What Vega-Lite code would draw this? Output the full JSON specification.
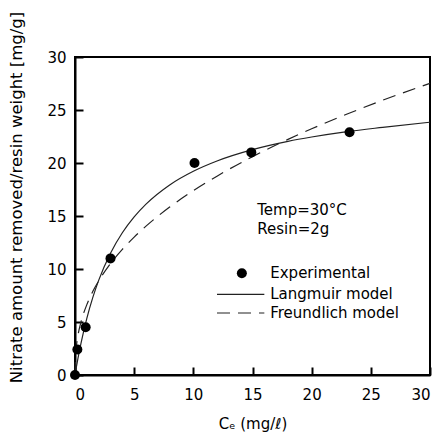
{
  "$schema": "https://vega.github.io/schema/vega-lite/v6.json",
  "width": 355,
  "height": 318,
  "autosize": "none",
  "padding": {"left": 75, "top": 57, "right": 15, "bottom": 63},
  "background": "white",
  "config": {
    "font": "DejaVu Sans",
    "view": {"stroke": "black", "strokeWidth": 2},
    "axis": {
      "domainColor": "black",
      "domainWidth": 2,
      "tickColor": "black",
      "tickWidth": 2,
      "tickSize": -8,
      "grid": false,
      "labelFont": "DejaVu Sans",
      "labelFontSize": 15,
      "labelColor": "black",
      "titleFont": "DejaVu Sans",
      "titleFontSize": 15,
      "titleFontWeight": "normal",
      "titleColor": "black"
    },
    "text": {"font": "DejaVu Sans", "fontSize": 15, "color": "black"}
  },
  "datasets": {
    "exp": [
      {"C": 0, "q": 0},
      {"C": 0.2, "q": 2.4},
      {"C": 0.9, "q": 4.5},
      {"C": 3.0, "q": 11.0},
      {"C": 10.1, "q": 20.0},
      {"C": 14.9, "q": 21.0},
      {"C": 23.2, "q": 22.9}
    ],
    "langmuir": [
      {"C": 0, "q": 0},
      {"C": 0.1, "q": 0.65},
      {"C": 0.25, "q": 1.57},
      {"C": 0.5, "q": 2.97},
      {"C": 1, "q": 5.35},
      {"C": 1.5, "q": 7.3},
      {"C": 2, "q": 8.93},
      {"C": 3, "q": 11.49},
      {"C": 4, "q": 13.42},
      {"C": 5, "q": 14.92},
      {"C": 6, "q": 16.12},
      {"C": 8, "q": 17.93},
      {"C": 10, "q": 19.22},
      {"C": 12, "q": 20.19},
      {"C": 15, "q": 21.26},
      {"C": 18, "q": 22.04},
      {"C": 20, "q": 22.45},
      {"C": 23, "q": 22.96},
      {"C": 26, "q": 23.36},
      {"C": 30, "q": 23.85}
    ],
    "freundlich": [
      {"C": 0, "q": 0},
      {"C": 0.05, "q": 1.9},
      {"C": 0.1, "q": 2.54},
      {"C": 0.25, "q": 3.72},
      {"C": 0.5, "q": 4.97},
      {"C": 1, "q": 6.64},
      {"C": 1.5, "q": 7.87},
      {"C": 2, "q": 8.87},
      {"C": 3, "q": 10.51},
      {"C": 4, "q": 11.85},
      {"C": 5, "q": 13.01},
      {"C": 6, "q": 14.04},
      {"C": 8, "q": 15.84},
      {"C": 10, "q": 17.39},
      {"C": 12, "q": 18.76},
      {"C": 15, "q": 20.6},
      {"C": 18, "q": 22.23},
      {"C": 20, "q": 23.23},
      {"C": 23, "q": 24.62},
      {"C": 26, "q": 25.92},
      {"C": 30, "q": 27.52}
    ]
  },
  "layer": [
    {
      "data": {"name": "langmuir"},
      "mark": {"type": "line", "color": "#222", "strokeWidth": 1.2, "interpolate": "monotone"},
      "encoding": {
        "x": {
          "field": "C", "type": "quantitative",
          "scale": {"domain": [0, 30], "nice": false},
          "axis": {
            "values": [0, 5, 10, 15, 20, 25, 30],
            "labelPadding": 20,
            "title": "Cₑ  (mg/ℓ)",
            "titlePadding": 14
          }
        },
        "y": {
          "field": "q", "type": "quantitative",
          "scale": {"domain": [0, 30], "nice": false},
          "axis": {
            "values": [0, 5, 10, 15, 20, 25, 30],
            "labelPadding": 17,
            "title": "Nitrate amount removed/resin weight [mg/g]",
            "titleFontSize": 16.5,
            "titleX": -51,
            "titleY": 140
          }
        }
      }
    },
    {
      "data": {"name": "freundlich"},
      "mark": {"type": "line", "color": "#222", "strokeWidth": 1.2, "strokeDash": [13, 8], "interpolate": "monotone"},
      "encoding": {
        "x": {"field": "C", "type": "quantitative"},
        "y": {"field": "q", "type": "quantitative"}
      }
    },
    {
      "data": {"name": "exp"},
      "mark": {"type": "point", "filled": true, "color": "black", "opacity": 1, "size": 100, "clip": false},
      "encoding": {
        "x": {"field": "C", "type": "quantitative"},
        "y": {"field": "q", "type": "quantitative"}
      }
    },
    {
      "data": {"values": [{}]},
      "layer": [
        {"mark": {"type": "text", "align": "left", "baseline": "middle"},
         "encoding": {"x": {"datum": 15.4}, "y": {"datum": 15.6}, "text": {"value": "Temp=30°C"}}},
        {"mark": {"type": "text", "align": "left", "baseline": "middle"},
         "encoding": {"x": {"datum": 15.4}, "y": {"datum": 13.8}, "text": {"value": "Resin=2g"}}},
        {"mark": {"type": "point", "filled": true, "color": "black", "opacity": 1, "size": 100},
         "encoding": {"x": {"datum": 14.1}, "y": {"datum": 9.6}}},
        {"mark": {"type": "text", "align": "left", "baseline": "middle"},
         "encoding": {"x": {"datum": 16.5}, "y": {"datum": 9.6}, "text": {"value": "Experimental"}}},
        {"mark": {"type": "rule", "color": "#222", "strokeWidth": 1.2},
         "encoding": {"x": {"datum": 12.0}, "x2": {"datum": 16.0}, "y": {"datum": 7.6}}},
        {"mark": {"type": "text", "align": "left", "baseline": "middle"},
         "encoding": {"x": {"datum": 16.5}, "y": {"datum": 7.6}, "text": {"value": "Langmuir model"}}},
        {"mark": {"type": "rule", "color": "#222", "strokeWidth": 1.2, "strokeDash": [13, 8]},
         "encoding": {"x": {"datum": 12.0}, "x2": {"datum": 16.0}, "y": {"datum": 5.85}}},
        {"mark": {"type": "text", "align": "left", "baseline": "middle"},
         "encoding": {"x": {"datum": 16.5}, "y": {"datum": 5.85}, "text": {"value": "Freundlich model"}}}
      ]
    }
  ]
}
